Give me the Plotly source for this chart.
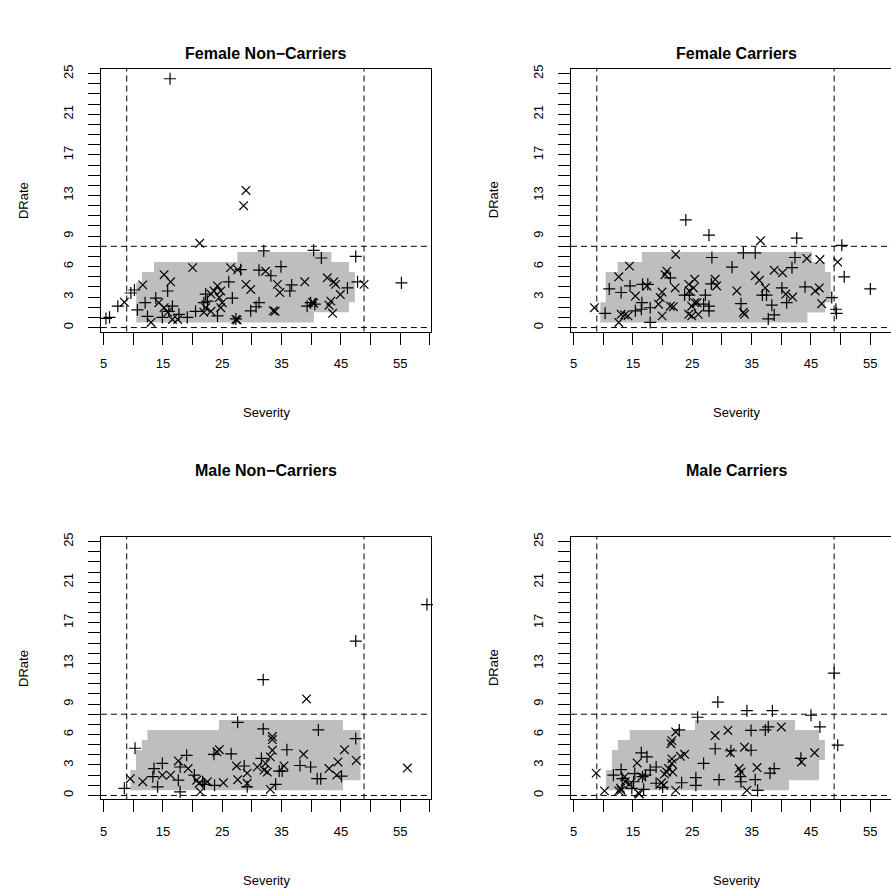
import plotly.graph_objects as go

# ---------------- data ----------------
panel_titles = ["Female Non\u2212Carriers", "Female Carriers",
                "Male Non\u2212Carriers", "Male Carriers"]
x_title = "Severity"
y_title = "DRate"

severity_ticks = list(range(5, 61, 5))
severity_labels = [str(v) if v % 10 == 5 else "" for v in severity_ticks]
drate_ticks = list(range(0, 26))
drate_labeled = [0, 3, 6, 9, 13, 17, 21, 25]
drate_labels = [str(v) if v in drate_labeled else "" for v in drate_ticks]

severity_cutoffs = [8.9, 48.9]
drate_cutoffs = [0.0, 8.0]

# Female Non-Carriers
fnc_plus = [(16.2, 24.5), (32.0, 7.55), (40.4, 7.6), (41.7, 6.85), (47.5, 7.0), (34.9, 6.0),
            (28.1, 5.7), (31.2, 5.65), (33.2, 5.1), (9.6, 3.4), (10.2, 3.7), (7.4, 2.1),
            (6.0, 1.0), (5.4, 0.9), (36.7, 4.2), (36.4, 3.6), (46.1, 3.9), (47.8, 4.5),
            (55.2, 4.4), (26.1, 4.5), (26.7, 2.9), (22.2, 3.3), (22.5, 2.6), (21.9, 2.45),
            (24.2, 1.15), (20.5, 1.6), (19.1, 1.0), (17.7, 1.3), (16.6, 2.1), (15.8, 3.6),
            (13.8, 2.9), (14.9, 1.0), (12.4, 1.1), (12.0, 2.45), (10.7, 1.75), (29.8, 1.65),
            (30.7, 2.05), (31.2, 2.45), (27.3, 0.85), (39.3, 2.1), (39.9, 2.45), (40.6, 2.3),
            (16.0, 1.6)]
fnc_cross = [(29.0, 13.5), (28.6, 12.0), (21.2, 8.3), (20.0, 5.9), (26.4, 5.9), (27.6, 5.7),
             (32.3, 5.55), (15.2, 5.2), (16.3, 4.5), (11.6, 4.2), (8.5, 2.5), (29.0, 4.25),
             (29.8, 3.75), (34.3, 4.25), (34.7, 3.45), (38.9, 4.5), (42.7, 4.9), (43.8, 4.5),
             (44.1, 4.25), (48.9, 4.25), (44.9, 3.25), (23.1, 3.3), (23.6, 3.6), (24.2, 4.1),
             (24.75, 3.6), (24.5, 2.95), (25.0, 2.45), (24.75, 1.95), (14.3, 2.45), (15.2, 1.95),
             (15.8, 1.5), (16.6, 0.8), (13.0, 0.5), (21.9, 1.5), (23.1, 1.6), (22.2, 1.95),
             (17.5, 0.8), (27.3, 0.8), (27.5, 0.75), (33.6, 1.65), (33.9, 1.6), (40.2, 2.5),
             (40.4, 2.4), (43.3, 2.6), (43.0, 2.2), (43.6, 1.4)]
fnc_region = [(10.5, 0.5), (10.5, 4.47), (11.45, 4.47), (11.45, 5.46), (13.5, 5.46),
              (13.5, 6.45), (27.55, 6.45), (27.55, 7.43), (43.4, 7.43), (43.4, 6.45),
              (46.35, 6.45), (46.35, 5.46), (47.35, 5.46), (47.35, 2.5), (46.35, 2.5),
              (46.35, 1.5), (40.45, 1.5), (40.45, 0.5)]

# Female Carriers
fc_plus = [(23.9, 10.6), (27.8, 9.1), (42.6, 8.8), (50.2, 8.1), (28.3, 6.9), (33.6, 7.35),
           (35.6, 7.35), (42.3, 6.9), (31.7, 5.95), (41.8, 5.9), (50.6, 5.0), (55.0, 3.8),
           (11.0, 3.8), (13.0, 3.45), (14.5, 4.1), (16.6, 4.25), (17.5, 4.25), (16.5, 2.45),
           (17.9, 1.95), (16.4, 1.8), (15.4, 1.65), (10.3, 1.4), (17.9, 0.5), (21.3, 4.9),
           (23.7, 3.2), (24.5, 3.2), (27.2, 3.2), (26.9, 2.3), (27.8, 2.1), (27.8, 1.65),
           (28.2, 4.3), (33.2, 2.35), (36.8, 3.2), (37.5, 3.2), (38.4, 2.2), (38.8, 1.25),
           (37.8, 0.85), (40.1, 3.9), (40.9, 2.45), (44.0, 4.0), (48.5, 2.95), (49.2, 1.8),
           (49.3, 1.4)]
fc_cross = [(36.5, 8.55), (22.2, 7.2), (44.3, 6.8), (46.5, 6.7), (49.5, 6.45), (38.8, 5.65),
            (40.2, 5.4), (35.6, 5.1), (36.3, 4.65), (14.4, 6.05), (12.6, 5.0), (20.7, 5.55),
            (20.4, 5.2), (22.1, 3.9), (17.35, 4.1), (15.4, 3.1), (19.9, 3.5), (19.6, 2.95),
            (19.3, 2.3), (13.0, 1.3), (13.6, 1.25), (14.15, 1.15), (12.6, 0.5), (8.5, 1.95),
            (19.9, 1.15), (21.3, 2.1), (21.8, 2.05), (24.4, 4.25), (25.4, 4.75), (24.5, 3.6),
            (25.2, 3.9), (25.4, 2.45), (24.9, 2.1), (24.4, 1.3), (24.9, 1.15), (26.0, 1.3),
            (25.8, 2.45), (28.85, 4.75), (29.1, 4.1), (32.5, 3.6), (33.6, 1.5), (33.8, 1.3),
            (37.3, 3.9), (40.75, 3.3), (41.9, 3.0), (45.7, 3.6), (46.4, 3.9), (46.8, 2.35)]
fc_region = [(9.5, 0.5), (9.5, 2.5), (10.4, 2.5), (10.4, 5.46), (12.4, 5.46), (12.4, 6.45),
             (16.5, 6.45), (16.5, 7.43), (45.13, 7.43), (45.13, 6.45), (47.37, 6.45),
             (47.37, 5.46), (48.33, 5.46), (48.33, 2.47), (47.37, 2.47), (47.37, 1.48),
             (44.4, 1.48), (44.4, 0.5)]

# Male Non-Carriers
mnc_plus = [(59.5, 18.8), (47.5, 15.2), (31.9, 11.4), (27.6, 7.2), (31.9, 6.55), (41.2, 6.45),
            (47.5, 5.6), (10.3, 4.65), (23.6, 4.05), (26.5, 4.1), (19.0, 3.95), (14.9, 3.15),
            (13.5, 2.65), (17.9, 2.8), (35.9, 4.5), (38.1, 2.95), (39.9, 2.8), (31.6, 3.65),
            (28.7, 2.9), (34.6, 2.4), (35.1, 2.4), (29.2, 0.85), (34.0, 1.1), (45.1, 1.9),
            (41.0, 1.65), (41.6, 1.65), (23.7, 1.0), (21.7, 1.35), (22.0, 1.1), (17.9, 0.35),
            (17.6, 1.5), (13.3, 1.85), (14.1, 0.85), (8.5, 0.7), (20.3, 2.0)]
mnc_cross = [(39.2, 9.5), (33.45, 5.8), (33.45, 5.5), (45.6, 4.5), (47.6, 3.45), (56.2, 2.7),
             (24.1, 4.3), (24.5, 4.5), (17.6, 3.4), (19.25, 2.65), (38.7, 4.05), (33.45, 4.45),
             (33.1, 3.8), (32.3, 3.15), (30.9, 2.8), (32.05, 2.5), (32.6, 2.3), (27.4, 2.9),
             (35.4, 2.9), (29.2, 2.2), (27.6, 1.55), (29.2, 1.2), (33.1, 0.6), (43.0, 2.65),
             (44.5, 3.3), (44.3, 2.0), (25.2, 1.25), (22.5, 1.35), (21.1, 1.2), (20.7, 1.5),
             (21.3, 0.35), (16.3, 2.0), (14.9, 2.0), (11.6, 1.35), (9.5, 1.65)]
mnc_region = [(9.5, 0.5), (9.5, 2.5), (10.45, 2.5), (10.45, 4.47), (11.45, 4.47), (11.45, 5.46),
              (12.4, 5.46), (12.4, 6.45), (24.45, 6.45), (24.45, 7.43), (45.35, 7.43),
              (45.35, 6.45), (48.3, 6.45), (48.3, 1.5), (45.35, 1.5), (45.35, 0.5)]

# Male Carriers
mc_plus = [(48.9, 12.05), (29.3, 9.2), (34.2, 8.35), (38.5, 8.35), (45.0, 7.9), (25.9, 7.7),
           (46.5, 6.75), (49.5, 4.95), (22.8, 6.45), (34.9, 6.4), (37.3, 6.45), (37.8, 6.75),
           (28.85, 4.6), (31.5, 4.4), (34.9, 4.45), (43.3, 3.65), (16.4, 4.2), (17.35, 3.8),
           (26.9, 3.15), (18.9, 2.8), (17.9, 2.5), (16.6, 1.85), (17.1, 2.0), (13.0, 2.55),
           (11.7, 2.0), (13.2, 1.65), (15.3, 2.15), (15.1, 1.35), (14.8, 0.7), (16.8, 0.6),
           (18.9, 1.2), (20.0, 0.8), (23.2, 1.25), (25.6, 1.75), (25.6, 1.0), (29.5, 1.55),
           (33.1, 1.85), (33.2, 1.35), (35.6, 1.55), (36.0, 0.5), (38.1, 2.2), (38.8, 2.65)]
mc_cross = [(22.2, 6.25), (31.0, 6.4), (28.85, 5.9), (40.0, 6.75), (21.55, 5.4), (21.4, 5.1),
            (31.4, 4.2), (33.8, 4.75), (45.6, 4.2), (43.4, 3.3), (23.7, 4.05), (23.0, 3.85),
            (21.55, 3.6), (15.7, 3.2), (21.55, 3.15), (21.0, 2.65), (21.7, 2.3), (20.3, 2.1),
            (20.7, 2.3), (16.5, 1.85), (13.6, 1.85), (13.7, 1.35), (14.4, 1.1), (12.9, 0.7),
            (13.0, 0.5), (12.6, 0.45), (15.9, 0.25), (16.05, 0.15), (10.2, 0.45), (8.8, 2.2),
            (19.8, 1.25), (20.15, 1.0), (22.2, 0.5), (32.9, 2.65), (33.2, 2.3), (35.9, 2.75),
            (34.2, 0.5)]
mc_region = [(10.45, 0.5), (10.45, 2.5), (11.45, 2.5), (11.45, 4.47), (12.45, 4.47),
             (12.45, 5.46), (14.45, 5.46), (14.45, 6.45), (25.45, 6.45), (25.45, 7.43),
             (42.3, 7.43), (42.3, 6.45), (46.35, 6.45), (46.35, 5.46), (47.35, 5.46),
             (47.35, 3.5), (46.35, 3.5), (46.35, 1.5), (41.3, 1.5), (41.3, 0.5)]

# ---------------- layout ----------------
W, H = 891, 894
FONT = "Liberation Sans, Arial, Helvetica, sans-serif"

def px_x(p):
    return p / W

def px_y(p):
    return 1 - p / H

left_dom = [px_x(100), px_x(430.7)]
right_dom = [px_x(570.6), 1.0]
top_dom = [px_y(329), px_y(65)]
bot_dom = [px_y(799), px_y(535)]
x_range_left = [4.545, 60.22]
x_range_right = [4.545, 58.485]
y_range = [-0.392, 25.49]

panels = [
    dict(title=panel_titles[0], plus=fnc_plus, cross=fnc_cross, region=fnc_region,
         xd=left_dom, yd=top_dom, xr=x_range_left, right=False, cx=265.35, top=50, box_top=65),
    dict(title=panel_titles[1], plus=fc_plus, cross=fc_cross, region=fc_region,
         xd=right_dom, yd=top_dom, xr=x_range_right, right=True, cx=735.95, top=50, box_top=65),
    dict(title=panel_titles[2], plus=mnc_plus, cross=mnc_cross, region=mnc_region,
         xd=left_dom, yd=bot_dom, xr=x_range_left, right=False, cx=265.35, top=469, box_top=535),
    dict(title=panel_titles[3], plus=mc_plus, cross=mc_cross, region=mc_region,
         xd=right_dom, yd=bot_dom, xr=x_range_right, right=True, cx=735.95, top=469, box_top=535),
]

fig = go.Figure()
layout = dict(width=W, height=H, autosize=False, margin=dict(l=0, r=0, t=0, b=0),
              paper_bgcolor="white", plot_bgcolor="white", showlegend=False,
              font=dict(family=FONT, color="black", size=13))
shapes = []
annotations = []

for i, p in enumerate(panels):
    n = i + 1
    xa = "x" if n == 1 else f"x{n}"
    ya = "y" if n == 1 else f"y{n}"
    xkey = "xaxis" if n == 1 else f"xaxis{n}"
    ykey = "yaxis" if n == 1 else f"yaxis{n}"

    rx = [c[0] for c in p["region"]] + [p["region"][0][0]]
    ry = [c[1] for c in p["region"]] + [p["region"][0][1]]
    fig.add_trace(go.Scatter(x=rx, y=ry, mode="lines", fill="toself",
                             fillcolor="#BEBEBE", line=dict(width=0, color="#BEBEBE"),
                             hoverinfo="skip", xaxis=xa, yaxis=ya))
    fig.add_trace(go.Scatter(x=[c[0] for c in p["plus"]], y=[c[1] for c in p["plus"]],
                             mode="markers", xaxis=xa, yaxis=ya, cliponaxis=False,
                             marker=dict(symbol="cross-thin", size=8.6, color="black",
                                         line=dict(width=1.2, color="black"))))
    fig.add_trace(go.Scatter(x=[c[0] for c in p["cross"]], y=[c[1] for c in p["cross"]],
                             mode="markers", xaxis=xa, yaxis=ya, cliponaxis=False,
                             marker=dict(symbol="x-thin", size=8.6, color="black",
                                         line=dict(width=1.2, color="black"))))

    layout[xkey] = dict(domain=p["xd"], range=p["xr"], anchor=ya, showgrid=False,
                        zeroline=False, showline=True, linecolor="black", linewidth=1,
                        mirror=True, ticks="outside", ticklen=12, tickwidth=1,
                        tickcolor="black", tickmode="array", tickvals=severity_ticks,
                        ticktext=severity_labels, tickfont=dict(size=13, family=FONT),
                        ticklabelstandoff=8)
    layout[ykey] = dict(domain=p["yd"], range=y_range, anchor=xa, showgrid=False,
                        zeroline=False, showline=True, linecolor="black", linewidth=1,
                        mirror=(not p["right"]), ticks="outside", ticklen=12, tickwidth=1,
                        tickcolor="black", tickmode="array", tickvals=drate_ticks,
                        ticktext=drate_labels, tickangle=-90,
                        tickfont=dict(size=13, family=FONT), ticklabelstandoff=10)

    for xv in severity_cutoffs:
        shapes.append(dict(type="line", xref=xa, yref=f"{ya} domain", x0=xv, x1=xv,
                           y0=0, y1=1, line=dict(color="black", width=1, dash="6px,4px"),
                           layer="above"))
    for yv in drate_cutoffs:
        shapes.append(dict(type="line", xref=f"{xa} domain", yref=ya, x0=0, x1=1,
                           y0=yv, y1=yv, line=dict(color="black", width=1, dash="6px,4px"),
                           layer="above"))

    annotations.append(dict(text=f"<b>{p['title']}</b>", xref="paper", yref="paper",
                            x=px_x(p["cx"]), y=px_y(p["top"]), showarrow=False,
                            xanchor="center", yanchor="middle",
                            font=dict(size=16, family=FONT, color="black")))
    annotations.append(dict(text=x_title, xref="paper", yref="paper",
                            x=px_x(p["cx"]), y=px_y(p["box_top"] + 345), showarrow=False,
                            xanchor="center", yanchor="middle",
                            font=dict(size=13, family=FONT, color="black")))
    annotations.append(dict(text=y_title, xref="paper", yref="paper", textangle=-90,
                            x=px_x(p["xd"][0] * W - 78), y=px_y(p["box_top"] + 132),
                            showarrow=False, xanchor="center", yanchor="middle",
                            font=dict(size=13, family=FONT, color="black")))

layout["shapes"] = shapes
layout["annotations"] = annotations
fig.update_layout(**layout)
fig.write_html("out.html")
